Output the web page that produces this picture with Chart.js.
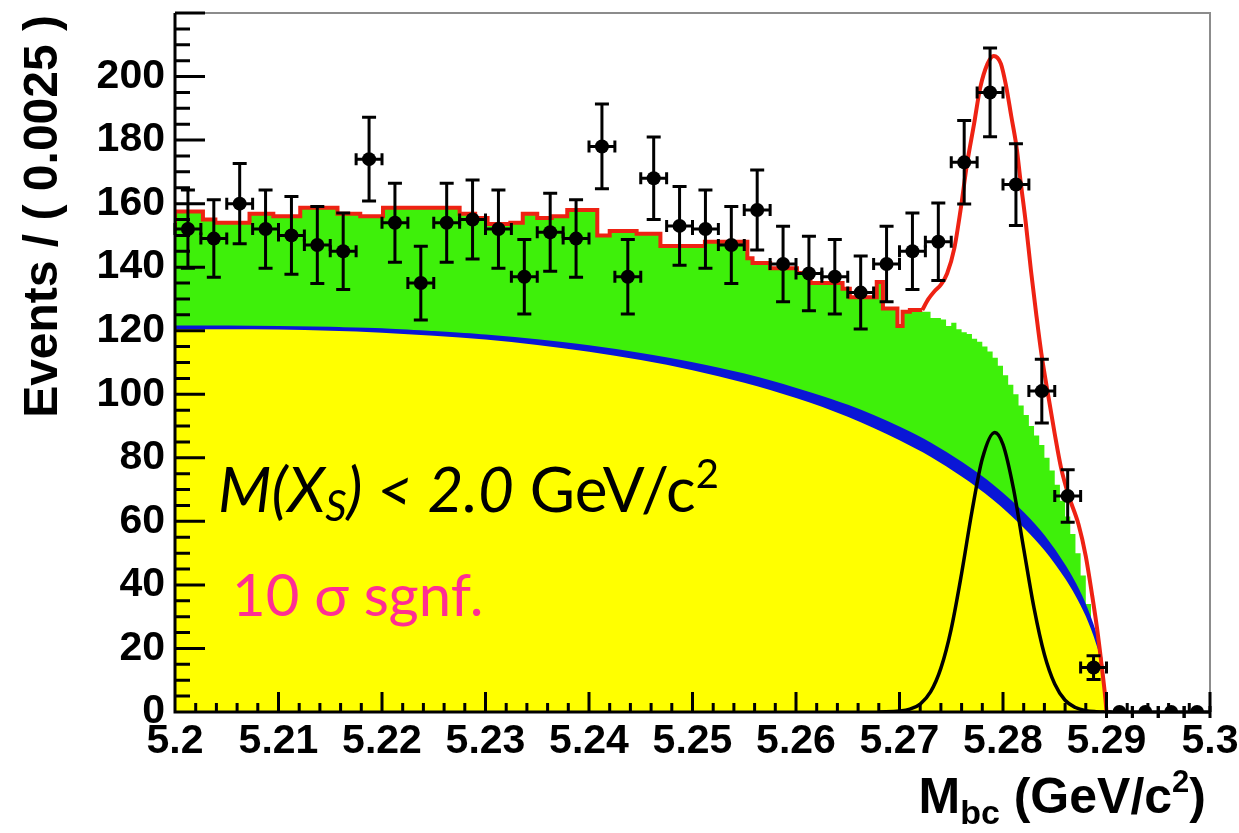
<!DOCTYPE html>
<html>
<head>
<meta charset="utf-8">
<title>Mbc fit</title>
<script src="https://cdn.jsdelivr.net/npm/chart.js@4.4.1/dist/chart.umd.min.js"></script>
<style>
  html, body { margin: 0; padding: 0; background: #fff; }
  #wrap { position: relative; width: 1239px; height: 833px; }
</style>
</head>
<body>
<div id="wrap"><canvas id="chart"></canvas></div>
<script>
// Mbc histogram, bins of 0.0025 GeV/c2
const binWidth = 0.0025;
const binCenters = [
  5.20125, 5.20375, 5.20625, 5.20875, 5.21125, 5.21375, 5.21625, 5.21875, 5.22125, 5.22375,
  5.22625, 5.22875, 5.23125, 5.23375, 5.23625, 5.23875, 5.24125, 5.24375, 5.24625, 5.24875,
  5.25125, 5.25375, 5.25625, 5.25875, 5.26125, 5.26375, 5.26625, 5.26875, 5.27125, 5.27375,
  5.27625, 5.27875, 5.28125, 5.28375, 5.28625, 5.28875, 5.29125, 5.29375, 5.29625, 5.29875
];
const binCounts = [
  152, 149, 160, 152, 150, 147, 145, 174, 154, 135,
  154, 155, 152, 137, 151, 149, 178, 137, 168, 153,
  152, 147, 158, 141, 138, 137, 132, 141, 145, 148,
  173, 195, 166, 101, 68, 14, 0, 0, 0, 0
];

// combinatorial background (yellow) and the blue band sitting on it
const bkgMass = [
  5.200, 5.205, 5.210, 5.215, 5.220, 5.225, 5.230, 5.235, 5.240, 5.245,
  5.250, 5.255, 5.260, 5.265, 5.270, 5.273, 5.276, 5.279, 5.282, 5.284,
  5.286, 5.287, 5.288, 5.289, 5.2895, 5.290
];
const yellowTop = [
  120.5, 120.5, 120.4, 120.0, 119.4, 118.4, 117.2, 115.5, 113.4, 110.8,
  107.6, 103.6, 98.8, 92.9, 85.5, 80.3, 74.1, 66.9, 58.0, 50.9,
  42.0, 36.6, 30.1, 21.4, 15.2, 0
];
const blueTop = [
  121.3, 121.3, 121.2, 120.9, 120.5, 119.6, 118.5, 117.0, 115.1, 112.7,
  109.8, 106.2, 101.7, 96.4, 89.5, 84.5, 78.4, 71.3, 62.5, 55.2,
  45.9, 40.2, 33.2, 24.0, 17.0, 0
];

// peaking background histogram (green): left bin edge -> content
const greenEdges = [
  5.2000, 5.2027, 5.2039, 5.2072, 5.2095, 5.2121, 5.2157, 5.2179, 5.2201, 5.2275,
  5.2290, 5.2302, 5.2324, 5.2336, 5.2350, 5.2364, 5.2379, 5.2408, 5.2420, 5.2446,
  5.2469, 5.2512, 5.2553, 5.2558, 5.2575, 5.2601, 5.2614, 5.2645, 5.2652, 5.2678,
  5.2684, 5.2698, 5.2703, 5.2710, 5.2720, 5.2730, 5.2740, 5.2745, 5.2750, 5.2755,
  5.2760, 5.2765, 5.2770, 5.2775, 5.2780, 5.2785, 5.2790, 5.2795, 5.2800, 5.2805,
  5.2810, 5.2815, 5.2820, 5.2825, 5.2830, 5.2835, 5.2840, 5.2845, 5.2850, 5.2855,
  5.2860, 5.2865, 5.2870, 5.2875, 5.2880, 5.2885, 5.2890, 5.2895, 5.2900
];
const greenTop = [
  151.5, 157.5, 155.0, 154.0, 156.8, 156.0, 158.7, 156.8, 156.0, 158.7,
  156.8, 155.5, 153.6, 154.0, 156.8, 155.5, 156.0, 158.0, 150.0, 151.4,
  150.5, 146.7, 148.0, 142.8, 141.3, 139.7, 138.2, 135.0, 133.2, 130.5,
  135.3, 127.0, 121.5, 126.0, 126.5, 126.0, 124.0, 123.5, 121.5, 122.5,
  120.5, 119.5, 119.0, 117.5, 116.5, 115.0, 113.5, 111.5, 109.0, 106.0,
  103.0, 100.0, 96.5, 93.5, 90.0, 87.0, 84.0, 80.0, 76.0, 71.5,
  66.5, 61.5, 56.0, 50.0, 43.0, 34.0, 24.0, 12.0, 0
];

// total fit (red) through the signal region
const totalMass = [
  5.2722, 5.2728, 5.2734, 5.2740, 5.2746, 5.2753, 5.2759, 5.2765, 5.2772, 5.2778,
  5.2785, 5.2791, 5.2798, 5.2803, 5.2808, 5.2813, 5.2817, 5.2822, 5.2827, 5.2832,
  5.2837, 5.2844, 5.2850, 5.2856, 5.2863, 5.2873, 5.2880, 5.2886, 5.2891, 5.2895,
  5.2899, 5.2900
];
const totalFit = [
  126.5, 130.0, 132.5, 134.5, 138.0, 146.0, 158.0, 172.0, 185.0, 196.5,
  204.0, 206.5, 204.0, 197.0, 187.5, 178.0, 167.0, 154.0, 139.0, 125.5,
  113.0, 99.0, 87.5, 77.0, 68.5, 59.0, 49.0, 37.0, 26.0, 15.5,
  4.0, 0
];
const redStepEnd = 5.2722;

// signal component (black)
const signalMass = [
  5.2680, 5.2700, 5.2710, 5.2720, 5.2730, 5.2740, 5.2750, 5.2760, 5.2770, 5.2780,
  5.2792, 5.2800, 5.2810, 5.2820, 5.2830, 5.2840, 5.2850, 5.2860, 5.2870, 5.2880,
  5.2890, 5.2905
];
const signalFit = [
  0, 0.3, 0.9, 2.5, 6.3, 13.8, 26.2, 43.6, 63.1, 79.7,
  88.0, 84.2, 70.5, 51.4, 32.7, 18.1, 8.8, 3.7, 1.4, 0.4,
  0.1, 0
];

const xTickValues = [5.2, 5.21, 5.22, 5.23, 5.24, 5.25, 5.26, 5.27, 5.28, 5.29, 5.3];
const xTickLabels = ['5.2', '5.21', '5.22', '5.23', '5.24', '5.25', '5.26', '5.27', '5.28', '5.29', '5.3'];
const yTickValues = [0, 20, 40, 60, 80, 100, 120, 140, 160, 180, 200];
const yTickLabels = ['0', '20', '40', '60', '80', '100', '120', '140', '160', '180', '200'];

const pts = (xs, ys) => xs.map((v, i) => ({ x: v, y: ys[i] }));

const greenPts = pts(greenEdges, greenTop);
const redStepPts = greenPts.filter(p => p.x < redStepEnd);
redStepPts.push({ x: redStepEnd, y: redStepPts[redStepPts.length - 1].y });

const tickFont = { family: 'Liberation Sans, Arial, sans-serif', size: 41, weight: 'bold' };

// ROOT-style frame: ticks inside, grey top/right edges, error bars, titles
const rootFrame = {
  id: 'rootFrame',
  afterDatasetsDraw(chart) {
    const { ctx, chartArea: a, scales: { x, y } } = chart;
    ctx.save();

    // error bars
    ctx.strokeStyle = '#000';
    ctx.lineWidth = 3;
    binCenters.forEach((m, i) => {
      const n = binCounts[i];
      const px = x.getPixelForValue(m);
      const py = y.getPixelForValue(n);
      const xl = x.getPixelForValue(m - binWidth / 2);
      const xr = x.getPixelForValue(m + binWidth / 2);
      ctx.beginPath();
      ctx.moveTo(xl, py); ctx.lineTo(xr, py);
      ctx.moveTo(xl, py - 6); ctx.lineTo(xl, py + 6);
      ctx.moveTo(xr, py - 6); ctx.lineTo(xr, py + 6);
      if (n > 0) {
        const e = Math.sqrt(n);
        const yt = y.getPixelForValue(n + e);
        const yb = y.getPixelForValue(n - e);
        ctx.moveTo(px, yt); ctx.lineTo(px, yb);
        ctx.moveTo(px - 7, yt); ctx.lineTo(px + 7, yt);
        ctx.moveTo(px - 7, yb); ctx.lineTo(px + 7, yb);
      }
      ctx.stroke();
    });

    // frame
    ctx.strokeStyle = '#8c8c8c';
    ctx.lineWidth = 2;
    ctx.beginPath();
    ctx.moveTo(a.left, a.top); ctx.lineTo(a.right, a.top); ctx.lineTo(a.right, a.bottom);
    ctx.stroke();

    ctx.strokeStyle = '#000';
    ctx.lineWidth = 3;
    ctx.beginPath();
    ctx.moveTo(a.left, a.top); ctx.lineTo(a.left, a.bottom); ctx.lineTo(a.right, a.bottom);
    // y ticks: major every 20, minor every 5
    for (let v = 0; v <= 220; v += 5) {
      const py = y.getPixelForValue(v);
      const len = v % 20 === 0 ? 30 : 15;
      ctx.moveTo(a.left, py); ctx.lineTo(a.left + len, py);
    }
    // x ticks: major every 0.01, minor every 0.002
    for (let k = 0; k <= 50; k++) {
      const px = x.getPixelForValue(5.2 + k * 0.002);
      const len = k % 5 === 0 ? 20 : 9;
      ctx.moveTo(px, a.bottom); ctx.lineTo(px, a.bottom - len);
    }
    ctx.stroke();

    // annotations inside the plot
    const humanist = 'Lato, "Open Sans", sans-serif';
    const runs = (items, x0, y0) => {
      let cx = x0;
      items.forEach(r => {
        ctx.font = r.font;
        ctx.fillStyle = r.color || '#000';
        ctx.fillText(r.text, cx, y0 + (r.dy || 0));
        cx += ctx.measureText(r.text).width;
      });
      return cx - x0;
    };
    ctx.textBaseline = 'alphabetic';
    ctx.textAlign = 'left';
    runs([
      { text: 'M(X', font: `italic 62px ${humanist}` },
      { text: 'S', font: `italic 42px ${humanist}`, dy: 9 },
      { text: ') < 2.0', font: `italic 62px ${humanist}` },
      { text: ' GeV/c', font: `62px ${humanist}` },
      { text: '2', font: `40px ${humanist}`, dy: -24 }
    ], 218, 512);
    runs([
      { text: '10 \u03c3 sgnf.', font: `58px ${humanist}`, color: '#ff2e93' }
    ], 232, 616);

    // axis titles
    const bold = 'Liberation Sans, Arial, sans-serif';
    const xTitle = [
      { text: 'M', font: `bold 50px ${bold}` },
      { text: 'bc', font: `bold 34px ${bold}`, dy: 11 },
      { text: ' (GeV/c', font: `bold 50px ${bold}` },
      { text: '2', font: `bold 31px ${bold}`, dy: -21 },
      { text: ')', font: `bold 50px ${bold}` }
    ];
    let w = 0;
    xTitle.forEach(r => { ctx.font = r.font; w += ctx.measureText(r.text).width; });
    runs(xTitle, 1206 - w, 813);

    ctx.translate(57, 15);
    ctx.rotate(-Math.PI / 2);
    ctx.textAlign = 'right';
    ctx.font = `bold 48px ${bold}`;
    ctx.fillStyle = '#000';
    ctx.fillText('Events / ( 0.0025 )', 0, 0);

    ctx.restore();
  }
};

const line = (label, data, color, extra) => Object.assign({
  label, data, borderColor: color, backgroundColor: color,
  pointRadius: 0, borderWidth: 4, fill: false
}, extra);

// drop the half-label padding Chart.js reserves at the axis ends
const noEndPadding = s => { s.paddingTop = 0; s.paddingBottom = 0; s.paddingLeft = 0; s.paddingRight = 0; };

new Chart(document.getElementById('chart'), {
  type: 'line',
  data: {
    datasets: [
      {
        label: 'data', data: pts(binCenters, binCounts), showLine: false,
        pointRadius: 7, pointStyle: 'circle', pointBackgroundColor: '#000',
        pointBorderWidth: 0, order: 1
      },
      line('total', pts(totalMass, totalFit), '#ee2213', { cubicInterpolationMode: 'monotone', order: 2 }),
      line('total (binned)', redStepPts, '#ee2213', { stepped: 'after', order: 2 }),
      line('signal', pts(signalMass, signalFit), '#000', {
        cubicInterpolationMode: 'monotone', borderWidth: 3.5, order: 3
      }),
      line('combinatorial', pts(bkgMass, yellowTop), '#ffff00', {
        cubicInterpolationMode: 'monotone', borderWidth: 0, fill: 'origin', order: 4
      }),
      line('other bkg', pts(bkgMass, blueTop), '#0a16d6', {
        cubicInterpolationMode: 'monotone', borderWidth: 2, fill: 'origin', order: 5
      }),
      line('peaking bkg', greenPts, '#3ef00a', {
        stepped: 'after', borderWidth: 0, fill: 'origin', order: 6
      })
    ]
  },
  options: {
    responsive: true,
    maintainAspectRatio: false,
    animation: false,
    layout: { padding: { left: 0, top: 13, right: 29, bottom: 0 } },
    plugins: { legend: { display: false }, tooltip: { enabled: false } },
    scales: {
      x: {
        type: 'linear', min: 5.2, max: 5.3,
        grid: { display: false, drawTicks: false },
        border: { display: false },
        afterBuildTicks: s => { s.ticks = xTickValues.map(v => ({ value: v })); },
        afterFit: s => { s.height = 121; noEndPadding(s); },
        ticks: {
          autoSkip: false, maxRotation: 0, minRotation: 0, padding: 5,
          color: '#000', font: tickFont,
          callback: (v, i) => xTickLabels[i]
        }
      },
      y: {
        min: 0, max: 220,
        grid: { display: false, drawTicks: false },
        border: { display: false },
        afterBuildTicks: s => { s.ticks = yTickValues.map(v => ({ value: v })); },
        afterFit: s => { s.width = 175; noEndPadding(s); },
        ticks: {
          padding: 10, color: '#000', font: tickFont,
          callback: (v, i) => yTickLabels[i]
        }
      }
    }
  },
  plugins: [rootFrame]
});
</script>
</body>
</html>
